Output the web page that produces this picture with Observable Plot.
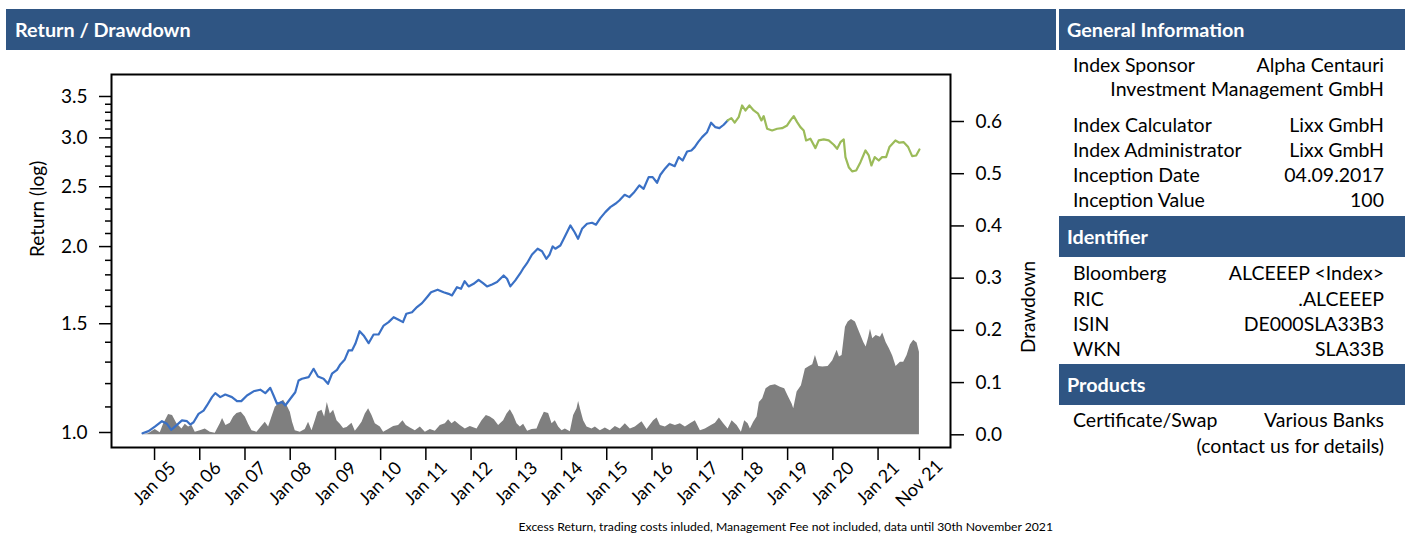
<!DOCTYPE html>
<html><head><meta charset="utf-8">
<script src="https://cdn.jsdelivr.net/npm/d3@7"></script>
<script src="https://cdn.jsdelivr.net/npm/@observablehq/plot@0.6"></script>
<style>
body{margin:0;background:#fff;font-family:Lato,sans-serif;}
#page{position:relative;width:1405px;height:541px;overflow:hidden;background:#fff;}
.bar{position:absolute;background:#2f5583;color:#fff;font-weight:bold;font-size:19.8px;line-height:41px;height:41px;box-sizing:border-box;white-space:nowrap;}
.row{position:absolute;left:1073px;width:311px;display:flex;justify-content:space-between;font-size:19.5px;line-height:24px;color:#000;white-space:nowrap;}
#chart{position:absolute;left:0;top:50px;}
.caption{position:absolute;right:352px;top:519px;font-size:12.2px;line-height:16px;white-space:nowrap;}
</style></head>
<body><div id="page">
<div class="bar" style="left:6px;top:9px;width:1050px;padding-left:9px;">Return / Drawdown</div>
<div class="bar" style="left:1059px;top:9px;width:346px;padding-left:8px;">General Information</div>
<div class="bar" style="left:1059px;top:216px;width:346px;padding-left:8px;">Identifier</div>
<div class="bar" style="left:1059px;top:364px;width:346px;padding-left:8px;">Products</div>
<div id="rows"></div>
<div id="chart"></div>
<div class="caption">Excess Return, trading costs inluded, Management Fee not included, data until 30th November 2021</div>
</div>
<script>
// ---- data ----
const blueT = [2004.735, 2004.867, 2005.015, 2005.164, 2005.274, 2005.369, 2005.458, 2005.606, 2005.717, 2005.790,
 2005.863, 2005.973, 2006.084, 2006.159, 2006.270, 2006.343, 2006.453, 2006.564, 2006.712, 2006.823,
 2006.918, 2007.044, 2007.190, 2007.338, 2007.449, 2007.559, 2007.632, 2007.708, 2007.818, 2007.891,
 2008.002, 2008.112, 2008.185, 2008.260, 2008.407, 2008.517, 2008.614, 2008.738, 2008.836, 2008.924,
 2009.035, 2009.108, 2009.203, 2009.291, 2009.366, 2009.440, 2009.535, 2009.623, 2009.734, 2009.844,
 2009.955, 2010.066, 2010.176, 2010.287, 2010.397, 2010.494, 2010.568, 2010.694, 2010.804, 2010.915,
 2011.025, 2011.114, 2011.260, 2011.392, 2011.503, 2011.578, 2011.689, 2011.777, 2011.857, 2011.945,
 2012.056, 2012.166, 2012.264, 2012.352, 2012.463, 2012.574, 2012.720, 2012.795, 2012.868, 2012.978,
 2013.089, 2013.162, 2013.237, 2013.348, 2013.472, 2013.569, 2013.664, 2013.737, 2013.804, 2013.863,
 2013.974, 2014.069, 2014.195, 2014.290, 2014.365, 2014.454, 2014.564, 2014.675, 2014.763, 2014.858,
 2014.969, 2015.079, 2015.190, 2015.278, 2015.396, 2015.500, 2015.595, 2015.721, 2015.816, 2015.927,
 2016.015, 2016.113, 2016.186, 2016.297, 2016.385, 2016.502, 2016.591, 2016.679, 2016.777, 2016.872,
 2016.945, 2017.020, 2017.109, 2017.219, 2017.308, 2017.403, 2017.491, 2017.587, 2017.674];
const blueV = [0.997, 1.005, 1.023, 1.043, 1.033, 1.010, 1.023, 1.046, 1.043, 1.030,
 1.039, 1.072, 1.085, 1.106, 1.141, 1.158, 1.141, 1.152, 1.141, 1.124,
 1.124, 1.148, 1.166, 1.173, 1.158, 1.181, 1.148, 1.113, 1.120, 1.106,
 1.134, 1.162, 1.214, 1.222, 1.229, 1.268, 1.232, 1.222, 1.199, 1.245,
 1.263, 1.289, 1.311, 1.358, 1.358, 1.392, 1.459, 1.436, 1.395, 1.441,
 1.441, 1.490, 1.509, 1.537, 1.522, 1.509, 1.557, 1.566, 1.596, 1.620,
 1.656, 1.687, 1.703, 1.687, 1.677, 1.667, 1.719, 1.709, 1.758, 1.724,
 1.741, 1.767, 1.745, 1.724, 1.737, 1.752, 1.796, 1.774, 1.724, 1.763,
 1.811, 1.848, 1.880, 1.942, 1.984, 1.966, 1.911, 1.942, 2.001, 1.984,
 2.008, 2.072, 2.164, 2.110, 2.059, 2.137, 2.178, 2.186, 2.170, 2.224,
 2.274, 2.317, 2.346, 2.375, 2.426, 2.405, 2.444, 2.512, 2.481, 2.591,
 2.591, 2.537, 2.614, 2.679, 2.724, 2.699, 2.792, 2.757, 2.851, 2.862,
 2.898, 2.952, 3.008, 3.064, 3.174, 3.122, 3.110, 3.150, 3.201];
const greenT = [2017.674, 2017.756, 2017.829, 2017.918, 2017.993, 2018.066, 2018.155, 2018.250, 2018.347, 2018.421,
 2018.471, 2018.547, 2018.657, 2018.768, 2018.878, 2018.989, 2019.062, 2019.135, 2019.210, 2019.283,
 2019.356, 2019.409, 2019.504, 2019.615, 2019.688, 2019.799, 2019.909, 2020.020, 2020.095, 2020.168,
 2020.241, 2020.279, 2020.352, 2020.427, 2020.516, 2020.611, 2020.721, 2020.794, 2020.853, 2020.926,
 2021.015, 2021.089, 2021.178, 2021.251, 2021.384, 2021.472, 2021.567, 2021.666, 2021.754, 2021.843,
 2021.915];
const greenV = [3.201, 3.229, 3.174, 3.241, 3.385, 3.322, 3.385, 3.322, 3.282, 3.201,
 3.253, 3.103, 3.084, 3.103, 3.110, 3.142, 3.201, 3.253, 3.181, 3.122,
 3.084, 2.971, 2.990, 2.887, 2.971, 2.982, 2.971, 2.924, 2.880, 2.952,
 2.982, 2.792, 2.689, 2.647, 2.656, 2.740, 2.862, 2.809, 2.706, 2.792,
 2.757, 2.792, 2.792, 2.898, 2.971, 2.946, 2.952, 2.898, 2.802, 2.809,
 2.873];
const ddT = [2004.735, 2004.867, 2005.015, 2005.126, 2005.199, 2005.310, 2005.398, 2005.495, 2005.606, 2005.679,
 2005.752, 2005.827, 2005.900, 2006.011, 2006.121, 2006.232, 2006.343, 2006.453, 2006.504, 2006.579,
 2006.675, 2006.748, 2006.823, 2006.918, 2007.006, 2007.079, 2007.155, 2007.265, 2007.360, 2007.449,
 2007.522, 2007.597, 2007.670, 2007.780, 2007.853, 2007.929, 2008.002, 2008.052, 2008.112, 2008.223,
 2008.333, 2008.406, 2008.482, 2008.555, 2008.614, 2008.703, 2008.761, 2008.820, 2008.887, 2008.960,
 2009.035, 2009.108, 2009.181, 2009.257, 2009.366, 2009.440, 2009.513, 2009.588, 2009.661, 2009.734,
 2009.809, 2009.882, 2009.993, 2010.066, 2010.176, 2010.287, 2010.397, 2010.494, 2010.568, 2010.657,
 2010.767, 2010.878, 2010.988, 2011.099, 2011.209, 2011.320, 2011.430, 2011.503, 2011.578, 2011.651,
 2011.762, 2011.872, 2011.983, 2012.131, 2012.242, 2012.337, 2012.425, 2012.514, 2012.609, 2012.720,
 2012.795, 2012.868, 2012.941, 2013.016, 2013.089, 2013.162, 2013.250, 2013.348, 2013.458, 2013.531,
 2013.620, 2013.715, 2013.790, 2013.863, 2013.936, 2014.011, 2014.084, 2014.195, 2014.268, 2014.343,
 2014.378, 2014.438, 2014.489, 2014.564, 2014.675, 2014.748, 2014.858, 2014.969, 2015.079, 2015.190,
 2015.300, 2015.411, 2015.522, 2015.632, 2015.780, 2015.891, 2016.037, 2016.113, 2016.186, 2016.297,
 2016.407, 2016.518, 2016.628, 2016.739, 2016.850, 2016.960, 2017.071, 2017.181, 2017.314, 2017.403,
 2017.491, 2017.587, 2017.684, 2017.772, 2017.883, 2017.978, 2018.051, 2018.126, 2018.177, 2018.250,
 2018.325, 2018.376, 2018.449, 2018.524, 2018.619, 2018.730, 2018.840, 2018.935, 2019.024, 2019.099,
 2019.135, 2019.210, 2019.305, 2019.393, 2019.482, 2019.555, 2019.615, 2019.688, 2019.777, 2019.896,
 2019.998, 2020.095, 2020.146, 2020.205, 2020.279, 2020.339, 2020.412, 2020.500, 2020.589, 2020.684,
 2020.737, 2020.795, 2020.832, 2020.883, 2020.958, 2021.053, 2021.103, 2021.178, 2021.251, 2021.324,
 2021.399, 2021.494, 2021.567, 2021.642, 2021.715, 2021.788, 2021.863, 2021.915];
const ddV = [0, 0.002, 0.010, 0.004, 0.020, 0.039, 0.037, 0.021, 0.011, 0.020,
 0.015, 0.018, 0.005, 0.008, 0.011, 0.005, 0.003, 0.021, 0.031, 0.018,
 0.022, 0.034, 0.041, 0.043, 0.034, 0.020, 0.008, 0.005, 0.015, 0.024,
 0.015, 0.034, 0.053, 0.062, 0.066, 0.056, 0.043, 0.024, 0.008, 0.005,
 0.010, 0.024, 0.008, 0.027, 0.043, 0.047, 0.034, 0.062, 0.040, 0.047,
 0.027, 0.020, 0.012, 0.014, 0.022, 0.007, 0.015, 0.024, 0.040, 0.050,
 0.037, 0.021, 0.015, 0.005, 0.010, 0.016, 0.018, 0.027, 0.018, 0.013,
 0.008, 0.015, 0.005, 0.010, 0.007, 0.018, 0.021, 0.029, 0.021, 0.026,
 0.018, 0.011, 0.016, 0.011, 0.027, 0.037, 0.034, 0.029, 0.018, 0.027,
 0.040, 0.048, 0.037, 0.021, 0.015, 0.020, 0.007, 0.010, 0.011, 0.027,
 0.043, 0.041, 0.021, 0.027, 0.015, 0.008, 0.011, 0.006, 0.037, 0.050,
 0.064, 0.043, 0.027, 0.015, 0.011, 0.015, 0.008, 0.013, 0.008, 0.016,
 0.011, 0.021, 0.011, 0.015, 0.025, 0.010, 0.027, 0.032, 0.018, 0.015,
 0.021, 0.018, 0.021, 0.015, 0.021, 0.027, 0.008, 0.011, 0.018, 0.022,
 0.032, 0.021, 0.011, 0.027, 0.018, 0.005, 0.027, 0.021, 0.011, 0.024,
 0.034, 0.062, 0.069, 0.088, 0.094, 0.096, 0.091, 0.088, 0.072, 0.059,
 0.050, 0.082, 0.094, 0.126, 0.131, 0.134, 0.152, 0.131, 0.130, 0.131,
 0.142, 0.162, 0.149, 0.152, 0.206, 0.216, 0.221, 0.216, 0.197, 0.177,
 0.168, 0.187, 0.202, 0.184, 0.190, 0.187, 0.195, 0.177, 0.165, 0.151,
 0.131, 0.139, 0.139, 0.152, 0.172, 0.181, 0.176, 0.158];

const yMajorTicks = [1.0, 1.5, 2.0, 2.5, 3.0, 3.5];
const yMinorTicks = [1.1, 1.2, 1.3, 1.4, 1.6, 1.7, 1.8, 1.9, 2.1, 2.2, 2.3, 2.4, 2.6, 2.7, 2.8, 2.9, 3.1, 3.2, 3.3, 3.4];
const ddTicks = [0.0, 0.1, 0.2, 0.3, 0.4, 0.5, 0.6];
const xTicks = [2005, 2006, 2007, 2008, 2009, 2010, 2011, 2012, 2013, 2014, 2015, 2016, 2017, 2018, 2019, 2020, 2021, 2021.915];
const xTickLabels = ["Jan 05","Jan 06","Jan 07","Jan 08","Jan 09","Jan 10","Jan 11","Jan 12","Jan 13","Jan 14","Jan 15","Jan 16","Jan 17","Jan 18","Jan 19","Jan 20","Jan 21","Nov 21"];

const infoGeneral = [["Index Sponsor","Alpha Centauri"],["","Investment Management GmbH"],["Index Calculator","Lixx GmbH"],["Index Administrator","Lixx GmbH"],["Inception Date","04.09.2017"],["Inception Value","100"]];
const infoIdent = [["Bloomberg","ALCEEEP <Index>"],["RIC",".ALCEEEP"],["ISIN","DE000SLA33B3"],["WKN","SLA33B"]];
const infoProducts = [["Certificate/Swap","Various Banks"],["","(contact us for details)"]];

// ---- info panel ----
const rowsEl = document.getElementById("rows");
function addRows(rows, centers){
  rows.forEach((r,i)=>{
    const d = document.createElement("div");
    d.className = "row";
    d.style.top = (centers[i]-12)+"px";
    const a = document.createElement("span"); a.textContent = r[0];
    const b = document.createElement("span"); b.textContent = r[1];
    d.appendChild(a); d.appendChild(b);
    rowsEl.appendChild(d);
  });
}
addRows(infoGeneral, [65, 89, 125, 150, 175, 200]);
addRows(infoIdent, [273, 299, 324, 349]);
addRows(infoProducts, [420, 446]);

// ---- chart ----
const Y0 = 0.9456, Y1 = 3.799, D0 = -0.0243, D1 = 0.690;
const ddToY = d => Math.exp(Math.log(Y0) + (d - D0) / (D1 - D0) * (Math.log(Y1) - Math.log(Y0)));
const blue = blueT.map((t, i) => ({t, v: blueV[i]}));
const green = greenT.map((t, i) => ({t, v: greenV[i]}));
const dd = ddT.map((t, i) => ({t, v: ddV[i]}));
const ddFmt = new Map(ddTicks.map(d => [ddToY(d), d.toFixed(1)]));

const chart = Plot.plot({
  width: 1055, height: 480,
  marginLeft: 111, marginRight: 105, marginTop: 24, marginBottom: 83,
  style: {fontFamily: "Lato, sans-serif", fontSize: "19px", color: "#000", background: "transparent"},
  x: {type: "linear", domain: [2004.048, 2022.602]},
  y: {type: "log", domain: [Y0, Y1]},
  marks: [
    Plot.areaY(dd, {x: "t", y1: () => ddToY(0), y2: d => ddToY(d.v), fill: "#7f7f7f"}),
    Plot.line(blue, {x: "t", y: "v", stroke: "#3a70c5", strokeWidth: 2.2}),
    Plot.line(green, {x: "t", y: "v", stroke: "#9bbb59", strokeWidth: 2.2}),
    Plot.frame({stroke: "#000", strokeWidth: 2}),
    Plot.axisY(yMajorTicks, {anchor: "left", tickSize: 12, tickPadding: 12, tickFormat: d => d.toFixed(1), strokeWidth: 1.5, label: null, fontSize: 19}),
    Plot.axisY(yMinorTicks, {anchor: "left", tickSize: 6, tickFormat: () => "", strokeWidth: 1.5, label: null}),
    Plot.axisY(ddTicks.map(ddToY), {anchor: "right", tickSize: 13, tickPadding: 12, tickFormat: v => ddFmt.get(v), strokeWidth: 1.5, label: null, fontSize: 19}),
    Plot.axisX(xTicks, {anchor: "bottom", tickSize: 13, tickFormat: () => "", strokeWidth: 1.5, label: null}),
    Plot.text(xTicks, {x: d => d, frameAnchor: "bottom", text: (d, i) => xTickLabels[i], rotate: -45, textAnchor: "middle", dy: 40, dx: 4, fontSize: 18}),
    Plot.text(["Return (log)"], {frameAnchor: "left", dx: -74, dy: -4, rotate: -90, fontSize: 19}),
    Plot.text(["Drawdown"], {frameAnchor: "right", dx: 78, rotate: -90, fontSize: 19})
  ]
});
document.getElementById("chart").appendChild(chart);
</script>
</body></html>
